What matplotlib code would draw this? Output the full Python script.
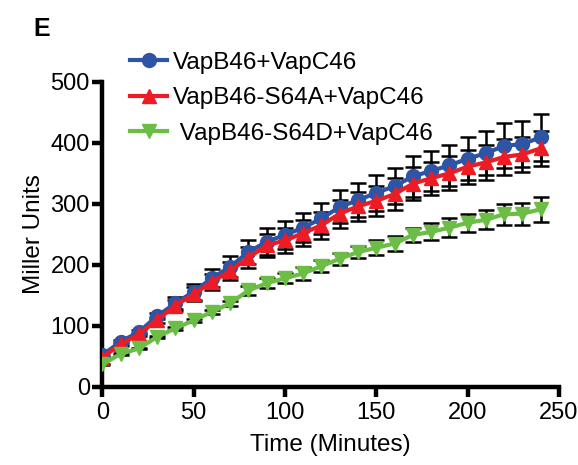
import matplotlib
matplotlib.use("Agg")
import matplotlib.pyplot as plt
import numpy as np

plt.rcParams['font.family'] = ['Liberation Sans', 'DejaVu Sans']

time_min = np.arange(0, 250, 10)

wt = [52, 74, 90, 116, 137, 156, 178, 197, 221, 238, 249, 261, 276, 295, 306,
      318, 329, 345, 354, 363, 374, 383, 395, 398, 409]
wt_err = [3, 3, 3, 5, 10, 13, 15, 17, 20, 22, 23, 24, 26, 27, 28,
          30, 30, 33, 33, 34, 35, 36, 37, 38, 38]

s64a = [48, 70, 86, 110, 133, 152, 172, 190, 212, 232, 240, 252, 265, 284, 296,
        305, 316, 333, 342, 350, 361, 368, 377, 381, 391]
s64a_err = [3, 3, 3, 5, 9, 11, 13, 15, 17, 19, 20, 21, 22, 23, 24,
            25, 26, 27, 27, 28, 28, 29, 29, 29, 29]

s64d = [37, 54, 63, 82, 96, 109, 123, 137, 158, 170, 178, 186, 198, 210, 221,
        228, 235, 249, 254, 261, 269, 274, 283, 284, 291]
s64d_err = [1, 1, 1, 2, 2, 3, 3, 4, 8, 8, 8, 10, 10, 10, 10,
            12, 12, 12, 14, 15, 15, 16, 17, 18, 20]

labels = ["VapB46+VapC46", "VapB46-S64A+VapC46", " VapB46-S64D+VapC46"]
colors = ["#2E55A5", "#ED1C24", "#6BBD45"]
markers = ["o", "^", "v"]

fig = plt.figure(figsize=(5.78, 4.65), dpi=100)
ax = fig.add_axes([0.177, 0.168, 0.790, 0.656])

series = [(wt, wt_err), (s64a, s64a_err), (s64d, s64d_err)]
handles = []
for i in [2, 1, 0]:
    y, e = series[i]
    ax.errorbar(time_min, y, yerr=e, fmt="none", ecolor="black",
                elinewidth=1.8, capsize=5.5, capthick=1.8, zorder=2 + i)
for i in [2, 1, 0]:
    y, e = series[i]
    h, = ax.plot(time_min, y, color=colors[i], marker=markers[i], lw=3,
                 markersize=10, label=labels[i], zorder=5 + i)
    handles.append(h)

ax.set_xlim(0, 250)
ax.set_ylim(0, 500)
ax.set_xticks([0, 50, 100, 150, 200, 250])
ax.set_yticks([0, 100, 200, 300, 400, 500])
for s in ["top", "right"]:
    ax.spines[s].set_visible(False)
for s in ["left", "bottom"]:
    ax.spines[s].set_linewidth(3.2)
    ax.spines[s].set_capstyle("projecting")
ax.tick_params(width=3.2, length=7, labelsize=17, pad=2)
ax.tick_params(axis="x", pad=4)
ax.set_xlabel("Time (Minutes)", fontsize=17.5, labelpad=7)
ax.set_ylabel("Miller Units", fontsize=17.5, labelpad=4)

leg = ax.legend(handles[::-1], labels, loc="upper left", bbox_to_anchor=(0.04, 1.13),
                frameon=False, fontsize=17.5, handlelength=1.5, handletextpad=0.25,
                labelspacing=0.55, borderaxespad=0)

fig.text(0.057, 0.922, "E", fontsize=18, fontweight="bold")

fig.savefig("out.png", dpi=100)
